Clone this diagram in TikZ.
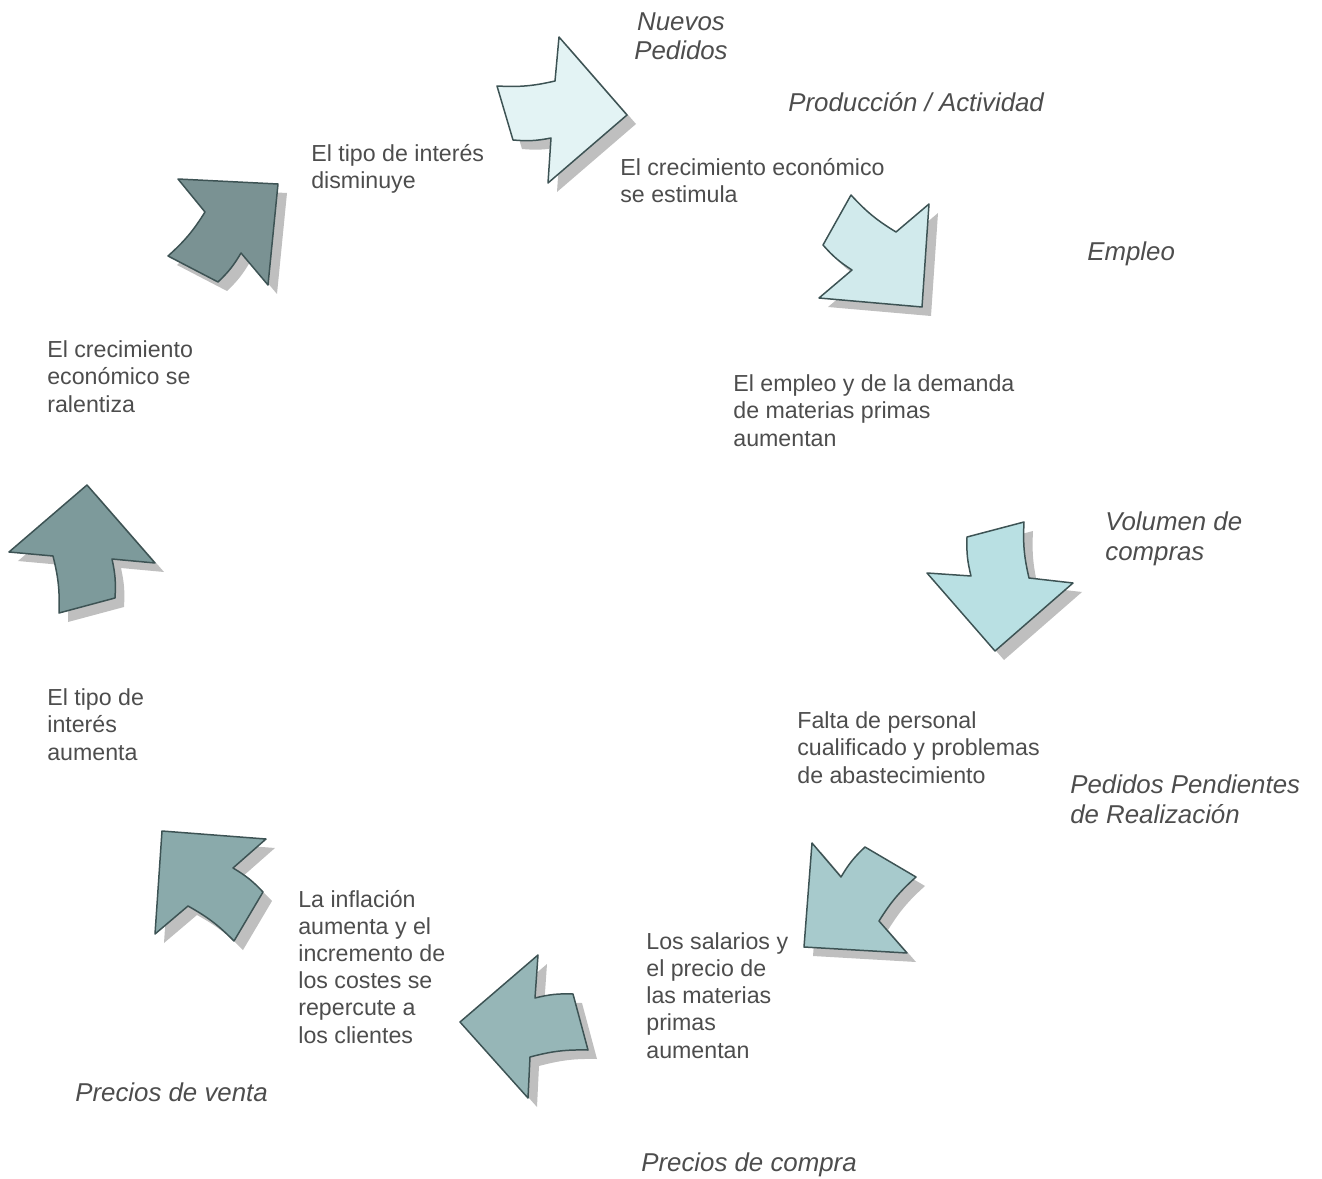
\documentclass[tikz,border=0pt]{standalone}
\usepackage{fontspec}
\setmainfont{Liberation Sans}
\usetikzlibrary{shadows}

\definecolor{edge}{HTML}{3D5354}
\definecolor{shade}{HTML}{BFBFBF}
\definecolor{ink}{HTML}{4D4D4D}
\definecolor{flowA}{HTML}{E3F3F4}
\definecolor{flowB}{HTML}{D1EAEC}
\definecolor{flowC}{HTML}{B9E0E3}
\definecolor{flowD}{HTML}{A7CACC}
\definecolor{flowE}{HTML}{96B6B7}
\definecolor{flowF}{HTML}{8AAAAB}
\definecolor{flowG}{HTML}{7A9293}
\definecolor{flowH}{HTML}{7D9A9B}

\begin{document}
\begin{tikzpicture}[x=0.02cm,y=-0.02cm]
	\tikzstyle{flow} = [draw=edge, line width=0.85pt, line join=round, drop shadow={shadow xshift=0.18cm, shadow yshift=-0.18cm, fill=shade, opacity=1}]
	\tikzstyle{cause} = [anchor=base west, inner sep=0pt, align=left, text=ink, font=\fontsize{13.2}{15.4}\selectfont]
	\tikzstyle{stage} = [cause, font=\fontsize{14.7}{16.7}\selectfont\itshape]

	\useasboundingbox (0,0) rectangle (1322,1179);

	% the cycle, clockwise from the top
	\draw [flow, fill=flowA] (497,86) to[bend right=8] (555,81) -- (559,37) -- (627,115) -- (548,183) -- (551,138) to[bend left=8] (513,140) -- cycle;
	\draw [flow, fill=flowB] (851,195) to[bend right=8] (896,232) -- (929,204) -- (922,307) -- (819,298) -- (852,270) to[bend left=8] (823,245) -- cycle;
	\draw [flow, fill=flowC] (1024,522) to[bend right=8] (1029,578) -- (1073,583) -- (995,651) -- (927,573) -- (971,576) to[bend left=8] (967,537) -- cycle;
	\draw [flow, fill=flowD] (916,877) to[bend right=8] (879,921) -- (907,953) -- (804,947) -- (812,843) -- (841,877) to[bend left=8] (865,847) -- cycle;
	\draw [flow, fill=flowE] (588,1050) to[bend right=8] (530,1057) -- (528,1098) -- (460,1022) -- (538,955) -- (535,998) to[bend left=8] (573,994) -- cycle;
	\draw [flow, fill=flowF] (234,941) to[bend right=8] (188,906) -- (155,934) -- (162,831) -- (266,839) -- (233,868) to[bend left=8] (263,892) -- cycle;
	\draw [flow, fill=flowH] (59,613) to[bend right=8] (53,556) -- (9,552) -- (87,485) -- (155,563) -- (112,559) to[bend left=8] (115,598) -- cycle;
	\draw [flow, fill=flowG] (168,256) to[bend right=8] (205,212) -- (178,179) -- (278,184) -- (268,285) -- (241,253) to[bend left=8] (218,282) -- cycle;

	% stages of the cycle (placed by the baseline of their last line)
	\node [stage, anchor=base, align=center] (nuevos) at (681,60) {Nuevos\\Pedidos};
	\node [stage] (produccion) at (788,112) {Producción / Actividad};
	\node [stage] (empleo) at (1087,261) {Empleo};
	\node [stage] (volumen) at (1105,560) {Volumen de\\compras};
	\node [stage] (pendientes) at (1070,823) {Pedidos Pendientes\\de Realización};
	\node [stage] (compra) at (641,1171) {Precios de compra};
	\node [stage] (venta) at (75,1101) {Precios de venta};

	% what happens in between
	\node [cause] (tipobaja) at (311,189) {El tipo de interés\\disminuye};
	\node [cause] (estimula) at (620,203) {El crecimiento económico\\se estimula};
	\node [cause] (demanda) at (733,446) {El empleo y de la demanda\\de materias primas\\aumentan};
	\node [cause] (falta) at (797,783) {Falta de personal\\cualificado y problemas\\de abastecimiento};
	\node [cause] (salarios) at (646,1058) {Los salarios y\\el precio de\\las materias\\primas\\aumentan};
	\node [cause] (inflacion) at (298,1043) {La inflación\\aumenta y el\\incremento de\\los costes se\\repercute a\\los clientes};
	\node [cause] (tiposube) at (47,760) {El tipo de\\interés\\aumenta};
	\node [cause] (ralentiza) at (47,412) {El crecimiento\\económico se\\ralentiza};
\end{tikzpicture}
\end{document}
